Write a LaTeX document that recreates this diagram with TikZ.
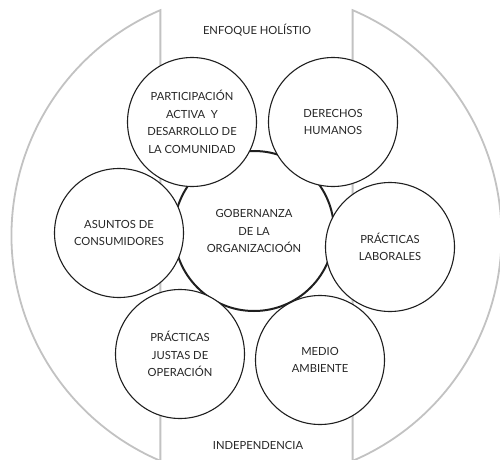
\documentclass[tikz,border=0pt]{standalone}
\usepackage{fontspec}
\setmainfont{Lato}
\usetikzlibrary{calc}
\begin{document}
\begin{tikzpicture}[x=1pt,y=1pt,
  halo/.style={draw=black!24, line width=1.8pt},
  topic/.style={circle, draw=black!88, line width=1.1pt, fill=white,
    minimum size=129pt, inner sep=0pt, align=center, text=black!85,
    font=\fontsize{11.2}{17.5}\selectfont},
  core/.style={topic, line width=2pt, minimum size=160pt},
  caption/.style={text=black!85, font=\fontsize{11.2}{14}\selectfont}]
\useasboundingbox (0,0) rectangle (500,459);
% outer ring split by the central band
\coordinate (hub) at (256.5,223.5);
\draw[halo] ($(hub)+(113.1:245)$) arc[start angle=113.1, end angle=246.9, radius=245] -- cycle;
\draw[halo] ($(hub)+(66.9:245)$) arc[start angle=66.9, end angle=-66.9, radius=245] -- cycle;
\node[caption] (holistic) at (257,429) {ENFOQUE HOLÍSTIO};
\node[caption] (indep) at (258,14) {INDEPENDENCIA};
% core subject and the six surrounding subjects
\node[core] (gov) at (254,228) {GOBERNANZA\\DE LA\\ORGANIZACIOÓN};
\node[topic] (part) at (192,337) {PARTICIPACIÓN\\ACTIVA~ Y\\DESARROLLO DE\\LA COMUNIDAD};
\node[topic] (rights) at (333,337) {DERECHOS\\HUMANOS};
\node[topic] (consum) at (119,226) {ASUNTOS DE\\CONSUMIDORES};
\node[topic] (labour) at (390,212) {PRÁCTICAS\\LABORALES};
\node[topic] (fair) at (180,105) {PRÁCTICAS\\JUSTAS DE\\OPERACIÓN};
\node[topic] (env) at (320,99) {MEDIO\\AMBIENTE};
\end{tikzpicture}
\end{document}
